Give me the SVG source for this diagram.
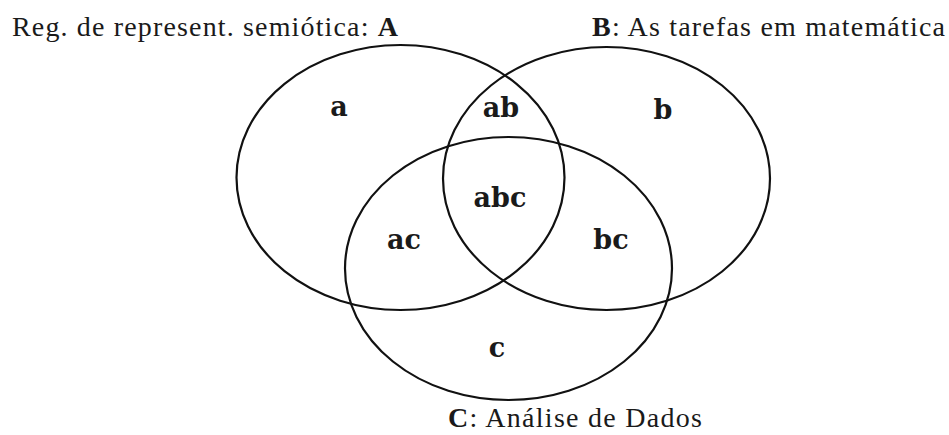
<svg xmlns="http://www.w3.org/2000/svg" width="949" height="435" viewBox="0 0 949 435">
<style>
.set{fill:none;stroke:#111;stroke-width:2.2}
.title{font-family:"Liberation Serif","DejaVu Serif",serif;font-size:28px;fill:#1a1a1a}
.lbl{font-family:"DejaVu Serif",serif;font-weight:bold;font-size:27px;fill:#1a1a1a;text-anchor:middle}
</style>
<rect width="949" height="435" fill="#fff"/>
<g id="setA"><ellipse class="set" cx="400.5" cy="177.5" rx="164" ry="132.5"/></g>
<g id="setB"><ellipse class="set" cx="606.5" cy="178.5" rx="163.5" ry="131.5"/></g>
<g id="setC"><ellipse class="set" cx="508.5" cy="268.5" rx="163.5" ry="131.5"/></g>
<g id="titles">
<text class="title" x="12" y="36" textLength="386" lengthAdjust="spacing">Reg. de represent. semiótica: <tspan font-weight="bold">A</tspan></text>
<text class="title" x="592" y="36" textLength="353" lengthAdjust="spacing"><tspan font-weight="bold">B</tspan>: As tarefas em matemática</text>
<text class="title" x="448" y="427" textLength="254" lengthAdjust="spacing"><tspan font-weight="bold">C</tspan>: Análise de Dados</text>
</g>
<g id="regions">
<text class="lbl" x="339" y="116">a</text>
<text class="lbl" x="501" y="117">ab</text>
<text class="lbl" x="663" y="119">b</text>
<text class="lbl" x="500" y="207">abc</text>
<text class="lbl" x="404" y="249">ac</text>
<text class="lbl" x="611" y="249">bc</text>
<text class="lbl" x="497" y="357">c</text>
</g>
<g id="connectors"></g>
</svg>
